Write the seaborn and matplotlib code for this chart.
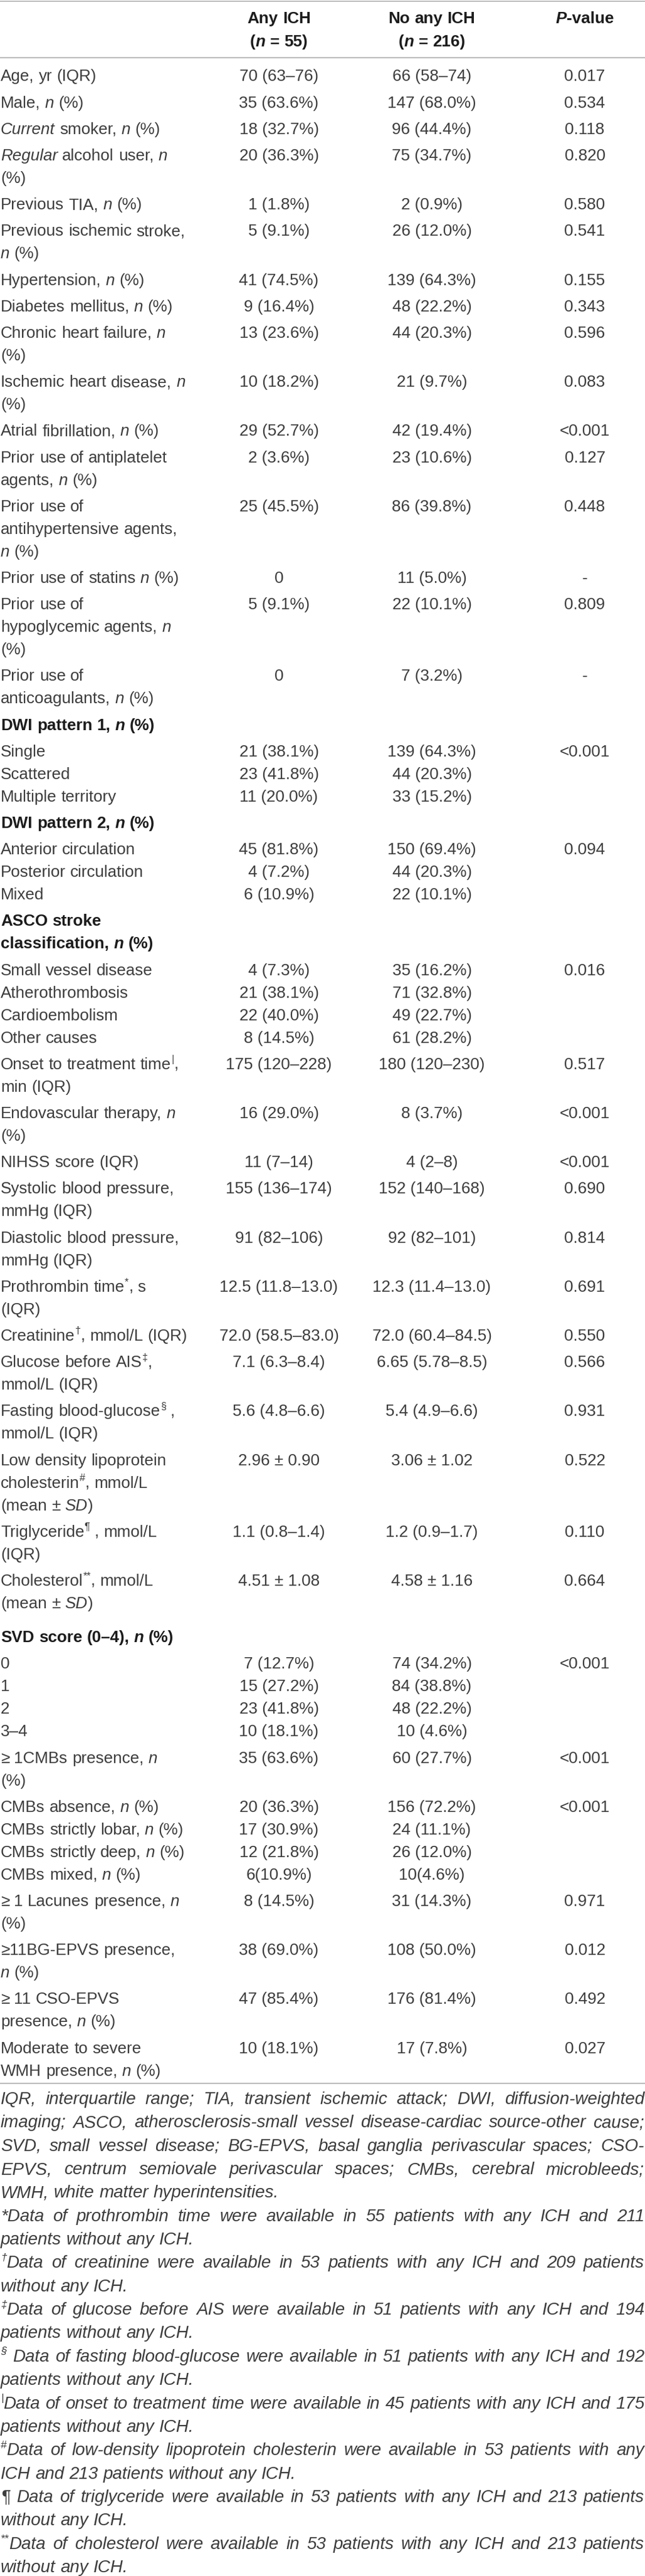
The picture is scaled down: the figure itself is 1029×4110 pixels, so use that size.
import re
import matplotlib
matplotlib.use("Agg")
import matplotlib.pyplot as plt
from matplotlib.font_manager import FontProperties
import seaborn as sns

# ---- table content ({i:..} italic, {bi:..} bold italic, {sup:..} superscript) ----
col_headers = [["Any ICH", "({bi:n} = 55)"], ["No any ICH", "({bi:n} = 216)"], ["{bi:P}-value"]]

row_labels = [
    ["Age, yr (IQR)"],
    ["Male, {i:n} (%)"],
    ["{i:Current} smoker, {i:n} (%)"],
    ["{i:Regular} alcohol user, {i:n}", "(%)"],
    ["Previous TIA, {i:n} (%)"],
    ["Previous ischemic stroke,", "{i:n} (%)"],
    ["Hypertension, {i:n} (%)"],
    ["Diabetes mellitus, {i:n} (%)"],
    ["Chronic heart failure, {i:n}", "(%)"],
    ["Ischemic heart disease, {i:n}", "(%)"],
    ["Atrial fibrillation, {i:n} (%)"],
    ["Prior use of antiplatelet", "agents, {i:n} (%)"],
    ["Prior use of", "antihypertensive agents,", "{i:n} (%)"],
    ["Prior use of statins {i:n} (%)"],
    ["Prior use of", "hypoglycemic agents, {i:n}", "(%)"],
    ["Prior use of", "anticoagulants, {i:n} (%)"],
    ["DWI pattern 1, {bi:n} (%)"],
    ["Single"],
    ["Scattered"],
    ["Multiple territory"],
    ["DWI pattern 2, {bi:n} (%)"],
    ["Anterior circulation"],
    ["Posterior circulation"],
    ["Mixed"],
    ["ASCO stroke", "classification, {bi:n} (%)"],
    ["Small vessel disease"],
    ["Atherothrombosis"],
    ["Cardioembolism"],
    ["Other causes"],
    ["Onset to treatment time{sup:|},", "min (IQR)"],
    ["Endovascular therapy, {i:n}", "(%)"],
    ["NIHSS score (IQR)"],
    ["Systolic blood pressure,", "mmHg (IQR)"],
    ["Diastolic blood pressure,", "mmHg (IQR)"],
    ["Prothrombin time{sup:*}, s", "(IQR)"],
    ["Creatinine{sup:†}, mmol/L (IQR)"],
    ["Glucose before AIS{sup:‡},", "mmol/L (IQR)"],
    ["Fasting blood-glucose{sup:§} ,", "mmol/L (IQR)"],
    ["Low density lipoprotein", "cholesterin{sup:#}, mmol/L", "(mean ± {i:SD})"],
    ["Triglyceride{sup:¶} , mmol/L", "(IQR)"],
    ["Cholesterol{sup:**}, mmol/L", "(mean ± {i:SD})"],
    ["SVD score (0–4), {bi:n} (%)"],
    ["0"],
    ["1"],
    ["2"],
    ["3–4"],
    ["≥ 1CMBs presence, {i:n}", "(%)"],
    ["CMBs absence, {i:n} (%)"],
    ["CMBs strictly lobar, {i:n} (%)"],
    ["CMBs strictly deep, {i:n} (%)"],
    ["CMBs mixed, {i:n} (%)"],
    ["≥ 1 Lacunes presence, {i:n}", "(%)"],
    ["≥11BG-EPVS presence,", "{i:n} (%)"],
    ["≥ 11 CSO-EPVS", "presence, {i:n} (%)"],
    ["Moderate to severe", "WMH presence, {i:n} (%)"],
]

any_ich = [
    "70 (63–76)", "35 (63.6%)", "18 (32.7%)", "20 (36.3%)", "1 (1.8%)", "5 (9.1%)",
    "41 (74.5%)", "9 (16.4%)", "13 (23.6%)", "10 (18.2%)", "29 (52.7%)", "2 (3.6%)",
    "25 (45.5%)", "0", "5 (9.1%)", "0",
    "", "21 (38.1%)", "23 (41.8%)", "11 (20.0%)",
    "", "45 (81.8%)", "4 (7.2%)", "6 (10.9%)",
    "", "4 (7.3%)", "21 (38.1%)", "22 (40.0%)", "8 (14.5%)",
    "175 (120–228)", "16 (29.0%)", "11 (7–14)", "155 (136–174)", "91 (82–106)",
    "12.5 (11.8–13.0)", "72.0 (58.5–83.0)", "7.1 (6.3–8.4)", "5.6 (4.8–6.6)",
    "2.96 ± 0.90", "1.1 (0.8–1.4)", "4.51 ± 1.08",
    "", "7 (12.7%)", "15 (27.2%)", "23 (41.8%)", "10 (18.1%)",
    "35 (63.6%)", "20 (36.3%)", "17 (30.9%)", "12 (21.8%)", "6(10.9%)",
    "8 (14.5%)", "38 (69.0%)", "47 (85.4%)", "10 (18.1%)",
]

no_any_ich = [
    "66 (58–74)", "147 (68.0%)", "96 (44.4%)", "75 (34.7%)", "2 (0.9%)", "26 (12.0%)",
    "139 (64.3%)", "48 (22.2%)", "44 (20.3%)", "21 (9.7%)", "42 (19.4%)", "23 (10.6%)",
    "86 (39.8%)", "11 (5.0%)", "22 (10.1%)", "7 (3.2%)",
    "", "139 (64.3%)", "44 (20.3%)", "33 (15.2%)",
    "", "150 (69.4%)", "44 (20.3%)", "22 (10.1%)",
    "", "35 (16.2%)", "71 (32.8%)", "49 (22.7%)", "61 (28.2%)",
    "180 (120–230)", "8 (3.7%)", "4 (2–8)", "152 (140–168)", "92 (82–101)",
    "12.3 (11.4–13.0)", "72.0 (60.4–84.5)", "6.65 (5.78–8.5)", "5.4 (4.9–6.6)",
    "3.06 ± 1.02", "1.2 (0.9–1.7)", "4.58 ± 1.16",
    "", "74 (34.2%)", "84 (38.8%)", "48 (22.2%)", "10 (4.6%)",
    "60 (27.7%)", "156 (72.2%)", "24 (11.1%)", "26 (12.0%)", "10(4.6%)",
    "31 (14.3%)", "108 (50.0%)", "176 (81.4%)", "17 (7.8%)",
]

p_values = [
    "0.017", "0.534", "0.118", "0.820", "0.580", "0.541",
    "0.155", "0.343", "0.596", "0.083", "<0.001", "0.127",
    "0.448", "-", "0.809", "-",
    "", "<0.001", "", "",
    "", "0.094", "", "",
    "", "0.016", "", "", "",
    "0.517", "<0.001", "<0.001", "0.690", "0.814",
    "0.691", "0.550", "0.566", "0.931",
    "0.522", "0.110", "0.664",
    "", "<0.001", "", "", "",
    "<0.001", "<0.001", "", "", "",
    "0.971", "0.012", "0.492", "0.027",
]

# footnote lines, True = justified to full width
footnotes = [
    ("IQR, interquartile range; TIA, transient ischemic attack; DWI, diffusion-weighted", True),
    ("imaging; ASCO, atherosclerosis-small vessel disease-cardiac source-other cause;", True),
    ("SVD, small vessel disease; BG-EPVS, basal ganglia perivascular spaces; CSO-", True),
    ("EPVS, centrum semiovale perivascular spaces; CMBs, cerebral microbleeds;", True),
    ("WMH, white matter hyperintensities.", False),
    ("*Data of prothrombin time were available in 55 patients with any ICH and 211", True),
    ("patients without any ICH.", False),
    ("{sup:†}Data of creatinine were available in 53 patients with any ICH and 209 patients", True),
    ("without any ICH.", False),
    ("{sup:‡}Data of glucose before AIS were available in 51 patients with any ICH and 194", True),
    ("patients without any ICH.", False),
    ("{sup:§} Data of fasting blood-glucose were available in 51 patients with any ICH and 192", True),
    ("patients without any ICH.", False),
    ("{sup:|}Data of onset to treatment time were available in 45 patients with any ICH and 175", True),
    ("patients without any ICH.", False),
    ("{sup:#}Data of low-density lipoprotein cholesterin were available in 53 patients with any", True),
    ("ICH and 213 patients without any ICH.", False),
    ("¶ Data of triglyceride were available in 53 patients with any ICH and 213 patients", True),
    ("without any ICH.", False),
    ("{sup:**}Data of cholesterol were available in 53 patients with any ICH and 213 patients", True),
    ("without any ICH.", False),
]

# ---- layout ----
W, H = 1029, 4110
FAMILY = ["Liberation Sans", "DejaVu Sans"]
BODY_PT, FOOT_PT = 18.7, 20.0
LINE, ROW_GAP, SUB_GAP = 36.0, 42.2, 36.0
COL_X = [445, 689, 933]
TEXT_C, BOLD_C, RULE_C = "#3d3d3d", "#1c1c1c", "#b5b5b5"
extra_gap = {41: 12}

sns.set_theme(style="white")
plt.rcParams["font.family"] = FAMILY

fig = plt.figure(figsize=(W / 100, H / 100), dpi=100)
ax = fig.add_axes([0, 0, 1, 1])
ax.set_xlim(0, W)
ax.set_ylim(H, 0)
ax.axis("off")
renderer = fig.canvas.get_renderer()

TOKEN = re.compile(r"\{(i|bi|sup):([^}]*)\}")


def fprop(style, size):
    it, bd, sup = style
    return FontProperties(family=FAMILY, style="italic" if it else "normal",
                          weight="bold" if bd else "normal",
                          size=size * (0.62 if sup else 1.0))


def advance(text, prop):
    w1 = renderer.get_text_width_height_descent("|" + text + "|", prop, ismath=False)[0]
    w0 = renderer.get_text_width_height_descent("||", prop, ismath=False)[0]
    return w1 - w0


def parse(line, base):
    segs, pos = [], 0
    for m in TOKEN.finditer(line):
        if m.start() > pos:
            segs.append((line[pos:m.start()], base))
        kind = m.group(1)
        if kind == "i":
            segs.append((m.group(2), (True, base[1], False)))
        elif kind == "bi":
            segs.append((m.group(2), (True, True, False)))
        else:
            segs.append((m.group(2), (base[0], base[1], True)))
        pos = m.end()
    if pos < len(line):
        segs.append((line[pos:], base))
    words = [[]]
    for text, st in segs:
        for k, part in enumerate(text.split(" ")):
            if k > 0:
                words.append([])
            if part:
                words[-1].append((part, st))
    return [w for w in words if w]


def draw_rich(x, y, line, size, color, base=(False, False, False), align="left", width=None):
    words = parse(line, base)
    widths = [sum(advance(t, fprop(st, size)) for t, st in w) for w in words]
    gap = advance(" ", fprop(base, size))
    if width is not None and len(words) > 1:
        gap = (width - sum(widths)) / (len(words) - 1)
    total = sum(widths) + gap * (len(words) - 1)
    if align == "center":
        x -= total / 2
    px = size * 100 / 72
    for w, ww in zip(words, widths):
        cx = x
        for t, st in w:
            p = fprop(st, size)
            dy = -0.42 * px if st[2] else 0
            ax.text(cx, y + dy, t, fontproperties=p, color=color, va="baseline", ha="left")
            cx += advance(t, p)
        x += ww + gap


def baseline(center, size):
    return center + 0.36 * size * 100 / 72


# rules
for yr in (1.5, 92, 3324):
    ax.axhline(yr, color=RULE_C, lw=1.3)

# column headers
for xc, lines in zip(COL_X, col_headers):
    for k, line in enumerate(lines):
        draw_rich(xc, baseline(28 + 37 * k, BODY_PT), line, BODY_PT, BOLD_C,
                  base=(False, True, False), align="center")

# body rows
y = 120.0
for i, lines in enumerate(row_labels):
    if i > 0:
        compact = p_values[i] == "" and any_ich[i] != ""
        y += (len(row_labels[i - 1]) - 1) * LINE + (SUB_GAP if compact else ROW_GAP)
        y += extra_gap.get(i, 0)
    head = any_ich[i] == ""
    for k, line in enumerate(lines):
        draw_rich(1, baseline(y + k * LINE, BODY_PT), line, BODY_PT,
                  BOLD_C if head else TEXT_C, base=(False, head, False))
    for xc, val in zip(COL_X, (any_ich[i], no_any_ich[i], p_values[i])):
        if val:
            ax.text(xc, baseline(y, BODY_PT), val, fontproperties=fprop((False, False, False), BODY_PT),
                    color=TEXT_C, ha="center", va="baseline")

# footnotes
fy = 3348.0
for line, justify in footnotes:
    draw_rich(1, baseline(fy, FOOT_PT * 0.9), line, FOOT_PT, TEXT_C,
              base=(True, False, False), width=W - 2 if justify else None)
    fy += 37.35

fig.savefig("out.png", dpi=100, facecolor="white")
